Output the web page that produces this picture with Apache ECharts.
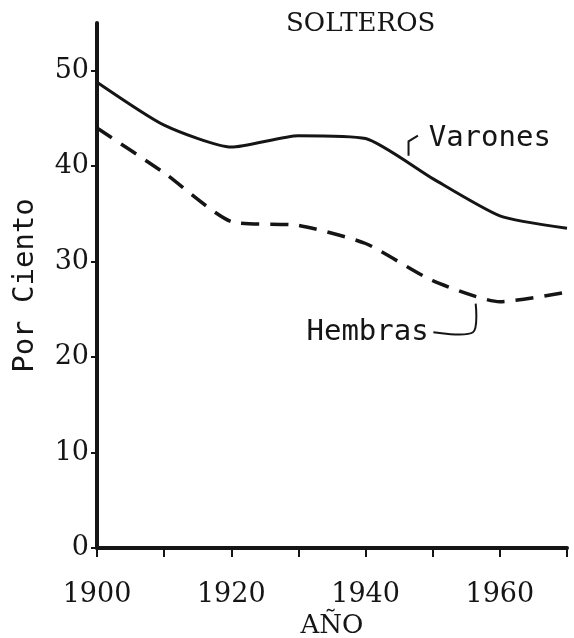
<!DOCTYPE html>
<html>
<head>
<meta charset="utf-8">
<script src="https://cdn.jsdelivr.net/npm/echarts@6/dist/echarts.min.js"></script>
<style>
  html, body { margin: 0; padding: 0; background: #fff; }
  #chart { width: 574px; height: 638px; }
</style>
</head>
<body>
<div id="chart"></div>
<script>
// años y porcentajes
const years = [1900, 1910, 1920, 1930, 1940, 1950, 1960, 1970]
const varones = [48.8, 44.3, 42.0, 43.2, 42.9, 38.7, 34.8, 33.5]
const hembras = [44.0, 39.3, 34.2, 33.8, 31.9, 28.0, 25.8, 26.8]
const yTicks = [0, 10, 20, 30, 40, 50]

// puntos de las flechas de las etiquetas (coordenadas de datos)
const varonesLeader = [[1946.4, 41.1], [1946.4, 42.6], [1947.8, 43.2]]
const hembrasLeader = [[1956.4, 25.6], [1956.0, 22.6], [1950.1, 22.6]]

const font = 'DejaVu Serif'
const ink = '#151515'

const chart = echarts.init(document.getElementById('chart'))

const option = {
  backgroundColor: '#fff',
  animation: false,
  title: {
    text: 'SOLTEROS',
    left: 281,
    top: 6,
    textStyle: { fontFamily: font, fontSize: 26, fontWeight: 'normal', color: ink }
  },
  grid: { left: 97, right: 7, top: 23, bottom: 90, outerBoundsMode: 'none' },
  xAxis: {
    type: 'value',
    min: 1900,
    max: 1970,
    interval: 10,
    name: 'AÑO',
    nameLocation: 'middle',
    nameGap: 60,
    nameTextStyle: { fontFamily: font, fontSize: 26, color: ink },
    axisLine: { lineStyle: { color: ink, width: 4 } },
    axisTick: { length: 9, lineStyle: { color: ink, width: 2 } },
    axisLabel: {
      margin: 33,
      fontFamily: font,
      fontSize: 27,
      color: ink,
      formatter: v => (v % 20 === 0 && v < 1970 ? String(v) : '')
    },
    splitLine: { show: false }
  },
  yAxis: {
    type: 'value',
    min: 0,
    max: 55,
    name: 'Por Ciento',
    nameLocation: 'middle',
    nameRotate: 90,
    nameGap: 57,
    nameTextStyle: { fontFamily: 'DejaVu Sans Mono', fontSize: 29, color: ink },
    axisLine: { lineStyle: { color: ink, width: 4 } },
    axisTick: { length: 6, customValues: yTicks, lineStyle: { color: ink, width: 2 } },
    axisLabel: {
      customValues: yTicks,
      margin: 8,
      fontFamily: font,
      fontSize: 27,
      color: ink
    },
    splitLine: { show: false }
  },
  series: [
    {
      name: 'Varones',
      type: 'line',
      smooth: 0.2,
      symbol: 'none',
      lineStyle: { color: ink, width: 3 },
      data: years.map((y, i) => [y, varones[i]])
    },
    {
      name: 'Hembras',
      type: 'line',
      smooth: 0.2,
      symbol: 'none',
      lineStyle: { color: ink, width: 3.5, type: [18, 11] },
      data: years.map((y, i) => [y, hembras[i]])
    }
  ]
}

chart.setOption(option)

// etiquetas con sus flechas
const px = p => chart.convertToPixel({ gridIndex: 0 }, p)
const vText = px([1949.4, 42.9])
const hText = px([1949.4, 22.6])
chart.setOption({
  graphic: [
    {
      type: 'polyline',
      shape: { points: varonesLeader.map(px) },
      style: { stroke: ink, lineWidth: 2, fill: null }
    },
    {
      type: 'polyline',
      shape: { points: hembrasLeader.map(px), smooth: 0.3 },
      style: { stroke: ink, lineWidth: 2, fill: null }
    },
    {
      type: 'text',
      x: vText[0],
      y: vText[1],
      style: {
        text: 'Varones',
        fontFamily: 'DejaVu Sans Mono',
        fontSize: 29,
        fill: ink,
        verticalAlign: 'middle',
        align: 'left'
      }
    },
    {
      type: 'text',
      x: hText[0],
      y: hText[1],
      style: {
        text: 'Hembras',
        fontFamily: 'DejaVu Sans Mono',
        fontSize: 29,
        fill: ink,
        verticalAlign: 'middle',
        align: 'right'
      }
    }
  ]
})
</script>
</body>
</html>
